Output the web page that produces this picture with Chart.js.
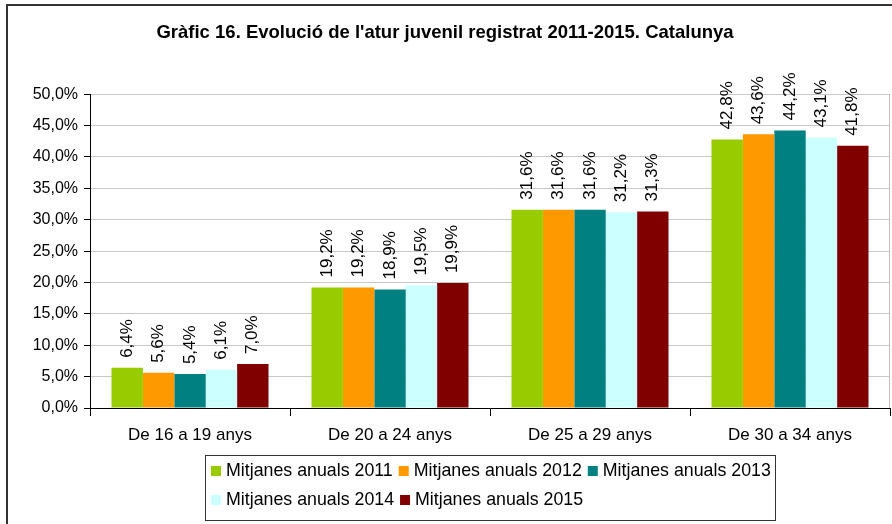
<!DOCTYPE html>
<html>
<head>
<meta charset="utf-8">
<script src="https://cdn.jsdelivr.net/npm/chart.js@4.4.1/dist/chart.umd.min.js"></script>
<style>
  html, body { margin: 0; padding: 0; background: #fff; }
  #wrap { width: 892px; height: 524px; }
</style>
</head>
<body>
<div id="wrap"><canvas id="atur" width="892" height="524"></canvas></div>
<script>
// dades del grafic
var categories = ['De 16 a 19 anys', 'De 20 a 24 anys', 'De 25 a 29 anys', 'De 30 a 34 anys'];
var seriesNames = ['Mitjanes anuals 2011', 'Mitjanes anuals 2012', 'Mitjanes anuals 2013', 'Mitjanes anuals 2014', 'Mitjanes anuals 2015'];
var y2011 = [6.4, 19.2, 31.6, 42.8];
var y2012 = [5.6, 19.2, 31.6, 43.6];
var y2013 = [5.4, 18.9, 31.6, 44.2];
var y2014 = [6.1, 19.5, 31.2, 43.1];
var y2015 = [7.0, 19.9, 31.3, 41.8];
var colors = ['#99cc00', '#ff9900', '#008080', '#ccffff', '#800000'];

var FONT = 'Liberation Sans, Arial, sans-serif';

function pct(v) {
    return v.toFixed(1).replace('.', ',') + '%';
}

// etiquetes verticals sobre cada barra + marc del grafic
var extras = {
    id: 'extras',
    beforeDraw: function (chart) {
        var ctx = chart.ctx;
        ctx.save();
        ctx.fillStyle = '#fff';
        ctx.fillRect(0, 0, chart.width, chart.height);
        ctx.restore();
    },
    afterDatasetsDraw: function (chart) {
        var ctx = chart.ctx;
        ctx.save();
        ctx.font = '17px ' + FONT;
        ctx.fillStyle = '#000';
        ctx.textAlign = 'left';
        ctx.textBaseline = 'middle';
        chart.data.datasets.forEach(function (ds, i) {
            chart.getDatasetMeta(i).data.forEach(function (bar, j) {
                ctx.save();
                ctx.translate(bar.x, bar.y - 10);
                ctx.rotate(-Math.PI / 2);
                ctx.fillText(pct(ds.data[j]), 0, 0);
                ctx.restore();
            });
        });
        ctx.restore();
    },
    afterDraw: function (chart) {
        var ctx = chart.ctx;
        var a = chart.chartArea;
        ctx.save();
        // vora dreta de l'area
        ctx.strokeStyle = '#c0c0c0';
        ctx.lineWidth = 1;
        ctx.beginPath();
        ctx.moveTo(a.right - 0.5, a.top);
        ctx.lineTo(a.right - 0.5, a.bottom);
        ctx.stroke();
        // marc exterior
        ctx.strokeStyle = '#333';
        ctx.lineWidth = 2;
        ctx.strokeRect(7, 5, 900, 540);

        // llegenda
        var bx = 205, by = 455, bw = 570, bh = 65;
        ctx.strokeStyle = '#333';
        ctx.lineWidth = 1;
        ctx.strokeRect(bx + 0.5, by + 0.5, bw, bh);
        ctx.font = '17.8px ' + FONT;
        ctx.textBaseline = 'middle';
        ctx.textAlign = 'left';
        var rows = [[0, 1, 2], [3, 4]];
        var rowY = [471, 500];
        rows.forEach(function (row, r) {
            var x = bx + 6;
            row.forEach(function (k) {
                ctx.fillStyle = colors[k];
                ctx.fillRect(x, rowY[r] - 5, 10, 10);
                ctx.fillStyle = '#000';
                ctx.fillText(seriesNames[k], x + 15, rowY[r]);
                x += 15 + ctx.measureText(seriesNames[k]).width + 6;
            });
        });
        ctx.restore();
    }
};

var series = [y2011, y2012, y2013, y2014, y2015];

new Chart(document.getElementById('atur').getContext('2d'), {
    type: 'bar',
    data: {
        labels: categories,
        datasets: series.map(function (d, i) {
            return {
                label: seriesNames[i],
                data: d,
                backgroundColor: colors[i],
                borderWidth: 0,
                categoryPercentage: 0.785,
                barPercentage: 1
            };
        })
    },
    options: {
        responsive: false,
        animation: false,
        layout: { padding: { left: 0, right: 2, top: 0, bottom: 0 } },
        plugins: {
            legend: { display: false },
            tooltip: { enabled: false },
            title: {
                display: true,
                text: "Gràfic 16. Evolució de l'atur juvenil registrat 2011-2015. Catalunya",
                color: '#000',
                font: { family: 'Liberation Sans Narrow, ' + FONT, size: 18.5, weight: 'bold' },
                padding: { top: 22, bottom: 50 }
            }
        },
        scales: {
            x: {
                grid: { drawOnChartArea: false, offset: true, tickLength: 8, tickColor: '#000' },
                border: { color: '#000' },
                ticks: { color: '#000', font: { family: FONT, size: 17 }, padding: 9, maxRotation: 0 },
                afterFit: function (s) { s.height = 116; }
            },
            y: {
                min: 0,
                max: 50,
                ticks: {
                    stepSize: 5,
                    color: '#000',
                    font: { family: FONT, size: 16 },
                    padding: 6,
                    callback: function (v) { return pct(v); }
                },
                grid: { color: '#c8c8c8', tickColor: '#000', tickLength: 6 },
                border: { color: '#000' },
                afterFit: function (s) { s.width = 90; }
            }
        }
    },
    plugins: [extras]
});
</script>
</body>
</html>
